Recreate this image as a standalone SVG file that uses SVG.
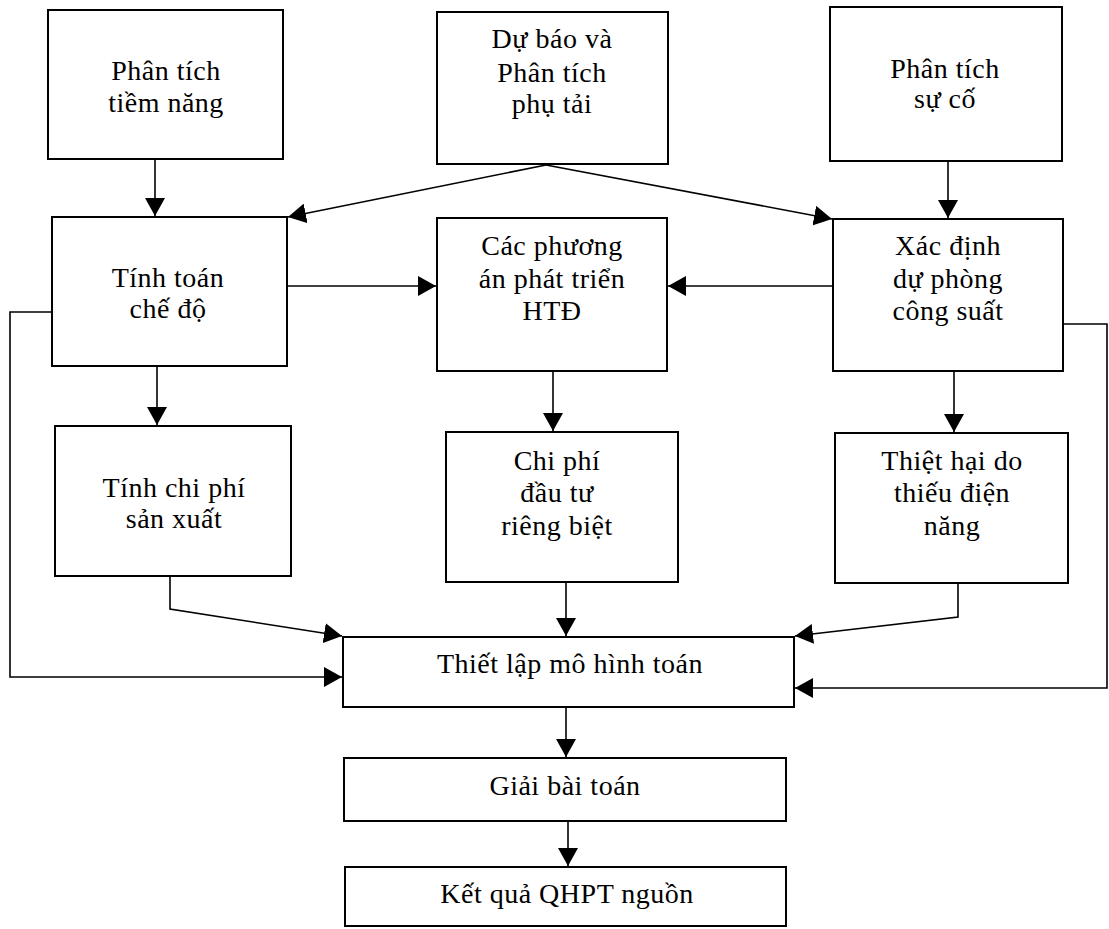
<svg xmlns="http://www.w3.org/2000/svg" width="1109" height="929" viewBox="0 0 1109 929">
<style>
.box{fill:#fff;stroke:#000;stroke-width:2}
.t{font-family:"Liberation Serif","Times New Roman",serif;font-size:28px;letter-spacing:0.5px;text-anchor:middle;fill:#000}
.c{fill:none;stroke:#000;stroke-width:1.6;marker-end:url(#ah)}
</style>
<defs>
<marker id="ah" markerUnits="userSpaceOnUse" markerWidth="18" markerHeight="20" refX="18" refY="10" orient="auto">
<path d="M0,0 L18,10 L0,20 Z" fill="#000"/>
</marker>
</defs>
<rect width="1109" height="929" fill="#fff"/>
<g id="connectors">
<path class="c" d="M155,159 L155,216"/>
<path class="c" d="M546,165 L288,217"/>
<path class="c" d="M546,165 L832,219"/>
<path class="c" d="M948,161 L948,218"/>
<path class="c" d="M287,286 L436,286"/>
<path class="c" d="M833,286 L668,286"/>
<path class="c" d="M157,367 L157,425"/>
<path class="c" d="M553,371 L553,431"/>
<path class="c" d="M954,372 L954,432"/>
<path class="c" d="M170,576 L170,609 L342,636"/>
<path class="c" d="M566,582 L566,636"/>
<path class="c" d="M958,583 L958,617 L795,636"/>
<path class="c" d="M52,312 L10,312 L10,677 L342,677"/>
<path class="c" d="M1063,324 L1107,324 L1107,688 L795,688"/>
<path class="c" d="M566,707 L566,757"/>
<path class="c" d="M568,821 L568,866"/>
</g>
<g id="n1"><rect class="box" x="48" y="10" width="235" height="149"/><text class="t" x="166" y="80">Phân tích</text><text class="t" x="166" y="112">tiềm năng</text></g>
<g id="n2"><rect class="box" x="437" y="12" width="231" height="152"/><text class="t" x="552" y="48">Dự báo và</text><text class="t" x="552" y="82">Phân tích</text><text class="t" x="552" y="113">phụ tải</text></g>
<g id="n3"><rect class="box" x="830" y="7" width="232" height="154"/><text class="t" x="945" y="78">Phân tích</text><text class="t" x="945" y="108">sự cố</text></g>
<g id="n4"><rect class="box" x="52" y="217" width="235" height="149"/><text class="t" x="168" y="287">Tính toán</text><text class="t" x="168" y="318">chế độ</text></g>
<g id="n5"><rect class="box" x="437" y="218" width="230" height="153"/><text class="t" x="552" y="255">Các phương</text><text class="t" x="552" y="288">án phát triển</text><text class="t" x="552" y="320">HTĐ</text></g>
<g id="n6"><rect class="box" x="833" y="219" width="230" height="152"/><text class="t" x="948" y="255">Xác định</text><text class="t" x="948" y="288">dự phòng</text><text class="t" x="948" y="320">công suất</text></g>
<g id="n7"><rect class="box" x="55" y="426" width="236" height="150"/><text class="t" x="174" y="497">Tính chi phí</text><text class="t" x="174" y="528">sản xuất</text></g>
<g id="n8"><rect class="box" x="446" y="432" width="232" height="150"/><text class="t" x="557" y="470">Chi phí</text><text class="t" x="557" y="502">đầu tư</text><text class="t" x="557" y="535">riêng biệt</text></g>
<g id="n10"><rect class="box" x="835" y="433" width="233" height="150"/><text class="t" x="952" y="470">Thiệt hại do</text><text class="t" x="952" y="502">thiếu điện</text><text class="t" x="952" y="535">năng</text></g>
<g id="n9"><rect class="box" x="343" y="637" width="451" height="70"/><text class="t" x="570" y="673">Thiết lập mô hình toán</text></g>
<g id="n11"><rect class="box" x="344" y="758" width="442" height="63"/><text class="t" x="565" y="795">Giải bài toán</text></g>
<g id="n12"><rect class="box" x="345" y="867" width="441" height="59"/><text class="t" x="567" y="903">Kết quả QHPT nguồn</text></g>
</svg>
